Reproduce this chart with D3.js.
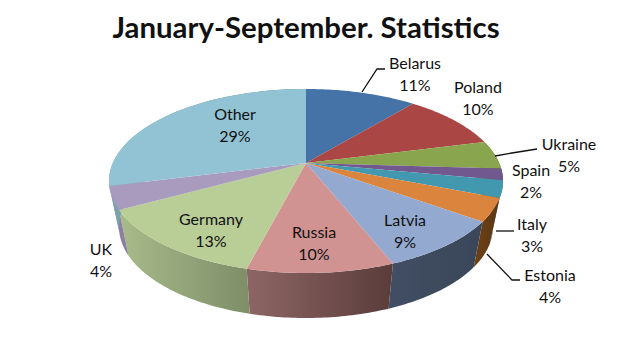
<!DOCTYPE html>
<html>
<head>
<meta charset="utf-8">
<script src="https://d3js.org/d3.v7.min.js"></script>
<style>
  html, body { margin: 0; padding: 0; background: #fff; }
  text { font-family: Lato, "Open Sans", sans-serif; fill: #111; }
</style>
</head>
<body>
<div id="chart"></div>
<script>
const categories = ["Belarus", "Poland", "Ukraine", "Spain", "Italy", "Estonia", "Latvia", "Russia", "Germany", "UK", "Other"];
const shares = [11, 10, 5, 2, 3, 4, 9, 10, 13, 4, 29];

const topColors = ["#4572a7", "#aa4643", "#89a54e", "#71588f", "#4198af", "#db843d", "#93a9cf", "#d19392", "#b9cd96", "#a99bbd", "#92c3d4"];
// wall shading, left to right
const wallLeft = ["#3a5f8c", "#8a3a38", "#728a42", "#5f4a78", "#3a7f92", "#6e4216", "#414e64", "#8d6664", "#a9bb8a", "#8f83a3", "#7ba4b2"];
const wallRight = ["#2c4869", "#682c2a", "#566731", "#47385a", "#2b5f6e", "#5a3612", "#3a4658", "#5a3c3b", "#7d8e68", "#8a7e9c", "#5c7b86"];

const width = 633, height = 354;

// where each label sits, dx/dy of the first line
const labelPos = {
  Belarus: [415, 69], Poland: [478, 93], Ukraine: [569, 150], Spain: [531, 176], Italy: [532, 230],
  Estonia: [550, 281], Latvia: [405, 226], Russia: [314, 238], Germany: [211, 225], UK: [101, 255], Other: [235, 120]
};
const leaders = [
  [[362, 92], [377, 69], [385, 69]],
  [[495, 156], [512, 153], [537, 149]],
  [[496, 231], [514, 231]],
  [[487, 254], [512, 280], [520, 280]]
];

const svg = d3.select("#chart")
  .append("svg")
  .attr("width", width)
  .attr("height", height);

svg.append("text")
  .attr("x", 306)
  .attr("y", 38)
  .attr("text-anchor", "middle")
  .attr("font-size", 29.4)
  .attr("font-weight", 700)
  .text("January-September. Statistics");

// top rim and bottom rim are two ellipses, pie centre is pulled back by perspective
const topRim = { cx: 306, cy: 181, rx: 197, ry: 92 };
const bottomRim = { cx: 306, cy: 227, rx: 187, ry: 91 };
const tilt = -0.196;

function project(angle, rim, r = 1) {
  const u = r * Math.sin(angle), v = -r * Math.cos(angle);
  const w = 1 + tilt * v;
  return [
    rim.cx + rim.rx * u * Math.sqrt(1 - tilt * tilt) / w,
    rim.cy + rim.ry * (v + tilt) / w
  ];
}

const pie = d3.pie().sort(null).value(d => d);
const arcs = pie(shares);
const line = d3.line();
const defs = svg.append("defs");

function rimPoints(d, rim) {
  return d3.range(0, 41).map(i => project(d.startAngle + (d.endAngle - d.startAngle) * i / 40, rim));
}

// walls first, only the front half shows
const front = arcs.filter(d => d.endAngle > Math.PI / 2 && d.startAngle < Math.PI * 1.5);
front.forEach(d => {
  const top = rimPoints(d, topRim), bottom = rimPoints(d, bottomRim);
  const xs = top.concat(bottom).map(p => p[0]);
  const grad = defs.append("linearGradient")
    .attr("id", "wall" + d.index)
    .attr("gradientUnits", "userSpaceOnUse")
    .attr("x1", d3.min(xs)).attr("x2", d3.max(xs))
    .attr("y1", 0).attr("y2", 0);
  grad.append("stop").attr("offset", 0).attr("stop-color", wallLeft[d.index]);
  grad.append("stop").attr("offset", 1).attr("stop-color", wallRight[d.index]);
  svg.append("path")
    .attr("d", line(top.concat(bottom.reverse())) + "Z")
    .attr("fill", `url(#wall${d.index})`);
});

// top face
svg.append("g").selectAll("path")
  .data(arcs)
  .join("path")
  .attr("d", d => line([project(0, topRim, 0)].concat(rimPoints(d, topRim))) + "Z")
  .attr("fill", d => topColors[d.index]);

svg.append("g").selectAll("path")
  .data(leaders)
  .join("path")
  .attr("d", d => line(d))
  .attr("fill", "none")
  .attr("stroke", "#111")
  .attr("stroke-width", 1.3);

const labels = svg.append("g").selectAll("text")
  .data(categories)
  .join("text")
  .attr("text-anchor", "middle")
  .attr("font-size", 16)
  .attr("transform", d => `translate(${labelPos[d][0]},${labelPos[d][1]})`);
labels.append("tspan").attr("x", 0).attr("y", 0).text(d => d);
labels.append("tspan").attr("x", 0).attr("y", 22).text((d, i) => shares[i] + "%");
</script>
</body>
</html>
